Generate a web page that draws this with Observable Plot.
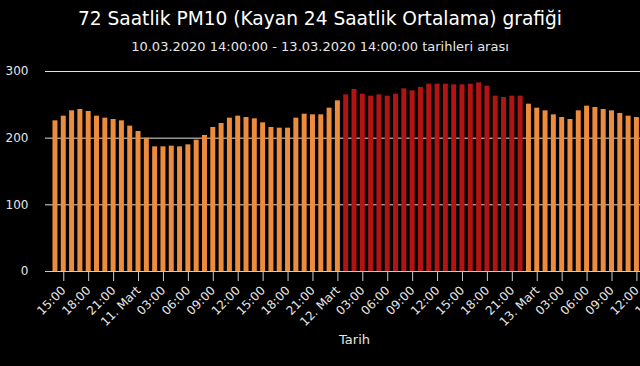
<!DOCTYPE html>
<html>
<head>
<meta charset="utf-8">
<script src="https://cdn.jsdelivr.net/npm/d3@7"></script>
<script src="https://cdn.jsdelivr.net/npm/@observablehq/plot@0.6"></script>
<style>
  html, body { margin: 0; padding: 0; background: #000; overflow: hidden; width: 640px; height: 366px; }
  #head { position: relative; width: 640px; height: 60px; font-family: "DejaVu Sans", sans-serif; }
  #title { position: absolute; left: 0; width: 640px; top: 9px; text-align: center; font-size: 18.6px; line-height: 19px; color: #ffffff; white-space: nowrap; }
  #subtitle { position: absolute; left: 0; width: 640px; top: 40px; text-align: center; font-size: 13px; line-height: 13px; color: #e6e6e6; white-space: nowrap; }
  #chart { width: 680px; height: 306px; }
  #chart svg { display: block; max-width: none !important; width: 680px !important; height: 306px !important; }
  #chart svg g[aria-label="x-axis label"] text { font-size: 13px; }
</style>
</head>
<body>
<div id="head">
  <div id="title">72 Saatlik PM10 (Kayan 24 Saatlik Ortalama) grafiği</div>
  <div id="subtitle">10.03.2020 14:00:00 - 13.03.2020 14:00:00 tarihleri arası</div>
</div>
<div id="chart"></div>
<script>
// Hourly series: 10.03.2020 14:00 -> 13.03.2020 14:00 (73 values)
const startHour = new Date(2020, 2, 10, 14);
const values = [
  226, 233, 241, 243, 240, 233, 230, 228, 226, 218,
  210, 200, 187, 187, 188, 187, 190, 197, 204, 216,
  222, 230, 233, 231, 229, 223, 216, 215, 215, 230,
  236, 235, 235, 245, 256, 265, 273, 266, 263, 265,
  263, 266, 274, 271, 276, 281, 281, 281, 280, 280,
  281, 283, 278, 263, 261, 263, 263, 251, 245, 241,
  235, 231, 228, 241, 248, 246, 243, 241, 237, 233,
  231, 229, 228
];
const yTicks = [0, 100, 200, 300];
const monthName = "Mart";
const limit = 260;
const colorLow = "#ec8c3c";
const colorHigh = "#b21313";

const data = values.map((v, i) => ({t: d3.timeHour.offset(startHour, i), v}));
const halfBar = 18 * 60 * 1000; // bar half-width (0.3 h)
const pad = 72 * 60 * 1000;     // axis padding (1.2 h)

const fmt = d => d.getHours() === 0 ? `${d.getDate()}. ${monthName}` : d3.timeFormat("%H:%M")(d);

const chart = Plot.plot({
  width: 680,
  height: 306,
  marginTop: 11,
  marginBottom: 95,
  marginLeft: 45,
  marginRight: 17,
  style: {background: "#000", color: "#e6e6e6", fontFamily: "DejaVu Sans, sans-serif", fontSize: "12px"},
  x: {type: "time", domain: [new Date(+data[0].t - pad), new Date(+data[data.length - 1].t + pad)]},
  y: {domain: [0, 300]},
  marks: [
    Plot.gridY(yTicks, {stroke: "#e0e0e0", strokeOpacity: 1}),
    Plot.rectY(data, {
      x1: d => new Date(+d.t - halfBar),
      x2: d => new Date(+d.t + halfBar),
      y: "v",
      fill: d => d.v > limit ? colorHigh : colorLow
    }),
    Plot.ruleY([0], {stroke: "#cccccc"}),
    Plot.axisY(yTicks, {tickSize: 0, tickPadding: 17, label: null, fontSize: 12}),
    Plot.axisX({
      ticks: d3.timeHour.every(3),
      tickFormat: fmt,
      tickRotate: -45,
      tickSize: 10,
      tickPadding: 7,
      stroke: "#cccccc",
      fontSize: 12,
      label: "Tarih",
      labelAnchor: "center",
      labelArrow: "none",
      labelOffset: 72
    })
  ]
});
document.getElementById("chart").appendChild(chart);
</script>
</body>
</html>
